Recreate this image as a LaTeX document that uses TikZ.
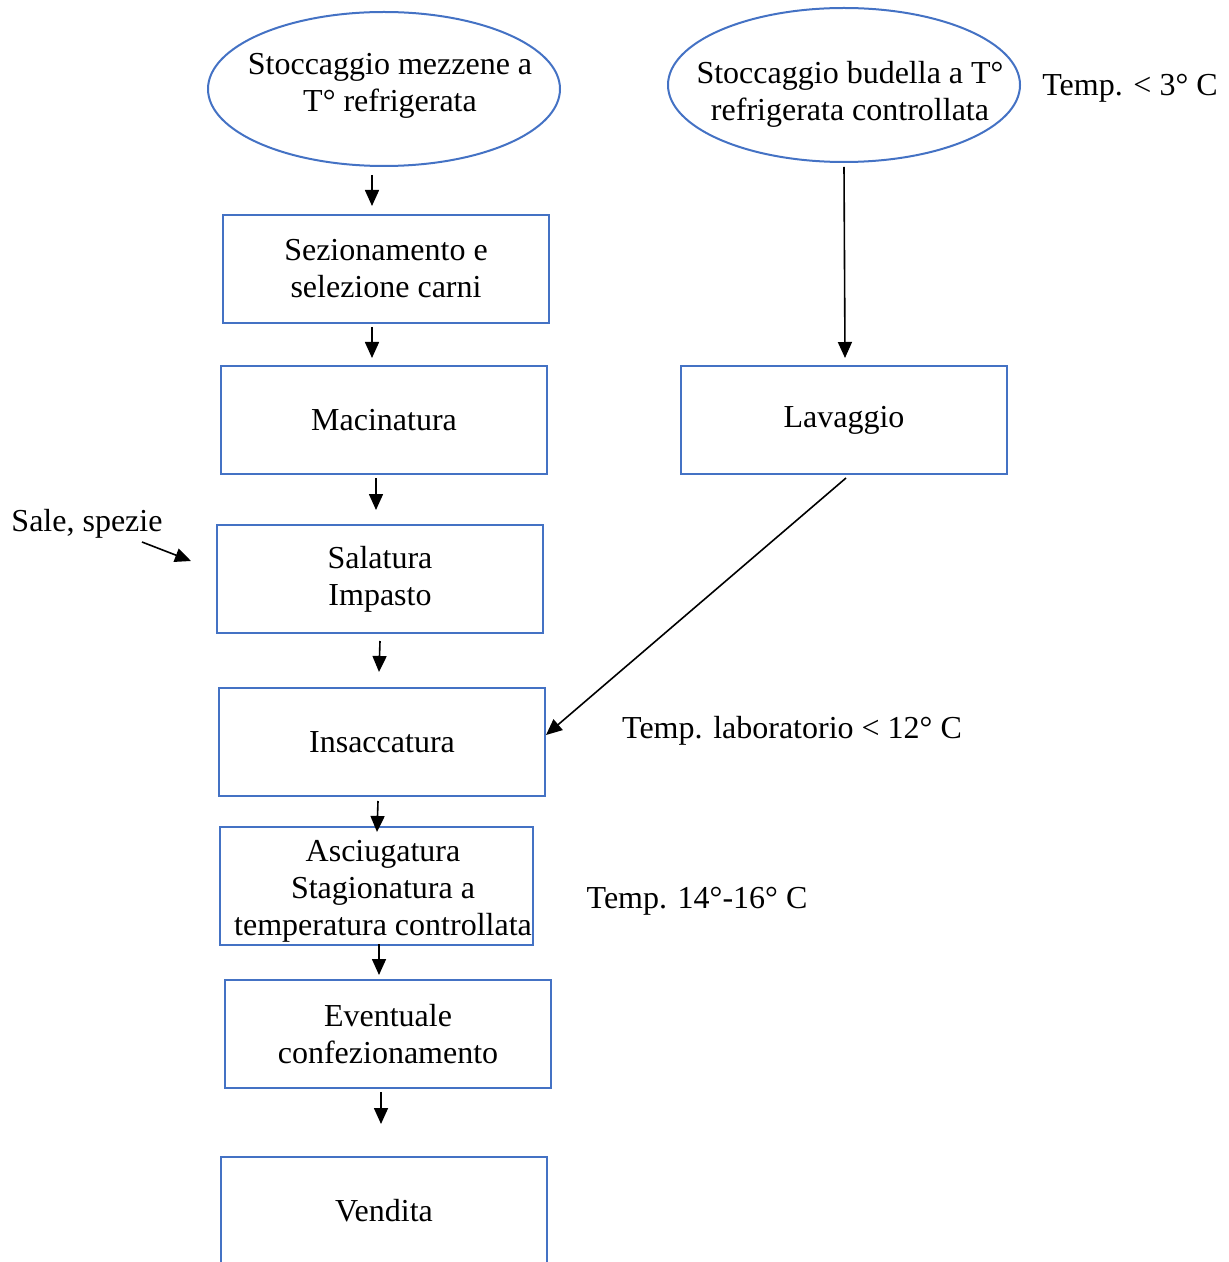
\documentclass[tikz,border=0pt]{standalone}
\usepackage{fontspec}
\setmainfont{Liberation Serif}
\usetikzlibrary{calc, positioning}
\usetikzlibrary{arrows.meta}
\usetikzlibrary{shapes.geometric}

\begin{document}
\begin{tikzpicture}[x=0.5pt,y=-0.5pt,
    every node/.style={font=\fontsize{16}{18.5}\selectfont},
    box/.style={draw=boxblue, line width=1pt, minimum width=163pt,
        minimum height=54pt, inner sep=0pt, align=center},
    oval/.style={ellipse, draw=boxblue, line width=1pt, minimum width=176pt,
        minimum height=77pt, inner sep=0pt},
    flow/.style={black, line width=0.8pt, -{Triangle[length=8pt,width=7pt]}}]
\definecolor{boxblue}{RGB}{68,114,196}
\useasboundingbox (0,0) rectangle (1228,1262);

% left column
\node[oval] (mezzene) at (384,89) {};
\node[align=center] (mezzeneT) at (390,86) {Stoccaggio mezzene a\\T° refrigerata};
\node[box] (sez) at (386,269) {Sezionamento e\\selezione carni};
\node[box] (mac) at (384,420) {Macinatura};
\node[box] (sal) at (380,579) {Salatura\\Impasto};
\node[box] (ins) at (382,742) {Insaccatura};
\node[box, minimum width=156.5pt, minimum height=59pt] (asc) at (376,886) {};
\node[align=center] (ascT) at (383,891)
    {Asciugatura\\Stagionatura a\\temperatura controllata};
\node[box] (even) at (388,1034) {Eventuale\\confezionamento};
\node[box] (vend) at (384,1211) {Vendita};

% right column
\node[oval] (budella) at (844,85) {};
\node[align=center] (budellaT) at (850,94) {Stoccaggio budella a T°\\refrigerata controllata};
\node[box] (lav) at (844,420) {Lavaggio};

% notes
\node (t3) at (1130,88) {Temp. < 3° C};
\node (sale) at (87,524) {Sale, spezie};
\coordinate (saleA) at (142,542);
\node (tlab) at (792,731) {Temp. laboratorio < 12° C};
\node (tsta) at (697,901) {Temp. 14°-16° C};

\draw[flow] ($(mezzene.south)+(-12,8)$) -- ($(sez.north)+(-14,-8)$);
\draw[flow] ($(sez.south)+(-14,3)$) -- ($(mac.north)+(-12,-7)$);
\draw[flow] ($(mac.south)+(-8,3)$) -- ($(sal.north)+(-4,-14)$);
\draw[flow] ($(sal.south)+(0,7)$) -- ($(ins.north)+(-3,-15)$);
\draw[flow] ($(ins.south)+(-4,4)$) -- ($(asc.north)+(1,6)$);
\draw[flow] ($(asc.south)+(3,-2)$) -- ($(even.north)+(-9,-4)$);
\draw[flow] ($(even.south)+(-7,3)$) -- ($(vend.north)+(-3,-32)$);

\draw[flow] ($(budella.south)+(0,4)$) -- ($(lav.north)+(1,-7)$);
\draw[flow] ($(lav.south)+(2,3)$) -- ($(ins.east)+(0,-7)$);
\draw[flow] (saleA) -- ($(sal.west)+(-25,-18)$);
\end{tikzpicture}
\end{document}
